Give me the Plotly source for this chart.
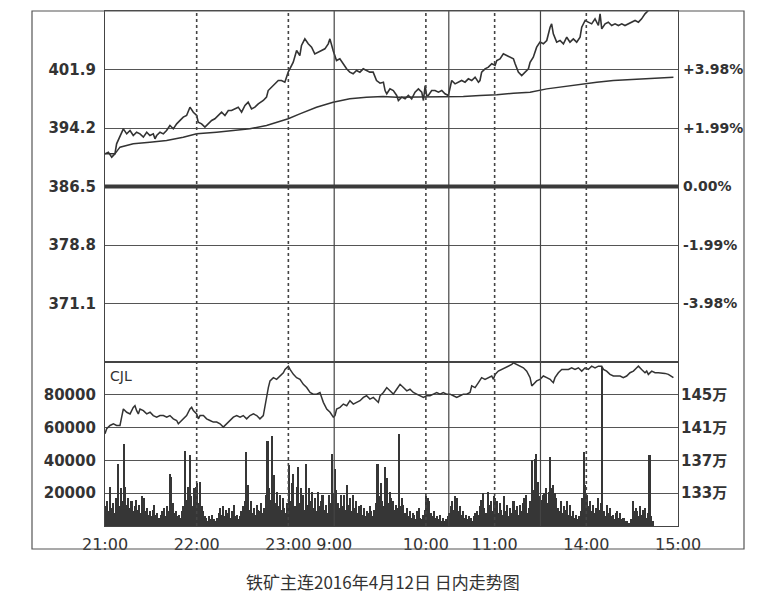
import plotly.graph_objects as go

W, H = 766, 596

# ---- time axis (trading minutes counted from 21:00) ----
tick_minutes = [0, 60, 120, 150, 210, 255, 315, 375]
tick_labels = ["21:00", "22:00", "23:00", "9:00", "10:00", "11:00", "14:00", "15:00"]
dotted_minutes = [60, 120, 210, 255, 315]
session_minutes = [150, 225, 285]

# ---- price panel ----
price_ref = 386.5
price_ticks = [371.1, 378.8, 386.5, 394.2, 401.9]

price_t = [0.0, 2.2, 4.4, 6.5, 7.6, 9.8, 12.0, 14.2, 16.4, 18.5, 20.7, 22.9, 25.1, 27.3, 29.4,
           31.6, 32.7, 33.8, 36.0, 38.2, 40.3, 42.5, 44.7, 46.9, 49.1, 51.2, 53.4, 55.6, 57.8,
           60.0, 61.0, 63.2, 65.4, 67.6, 69.8, 71.9, 74.1, 76.3, 78.5, 80.7, 82.8, 85.0, 87.2,
           89.4, 91.6, 93.7, 95.9, 98.1, 100.3, 103.6, 105.7, 106.8, 109.0, 111.2, 113.4, 115.5,
           117.7, 119.9, 122.1, 123.2, 125.4, 127.5, 128.6, 130.8, 133.0, 135.2, 137.3, 139.5,
           141.7, 143.9, 146.1, 147.2, 149.3, 151.5, 153.7, 155.9, 158.1, 160.2, 162.4, 164.6,
           166.8, 169.0, 171.1, 173.3, 175.5, 177.7, 180.0, 182.2, 183.3, 184.4, 186.5, 188.7,
           190.9, 192.0, 194.2, 196.4, 198.5, 200.7, 202.9, 205.1, 207.3, 208.4, 209.5, 210.5,
           211.6, 213.8, 216.0, 218.2, 220.4, 222.5, 224.7, 226.9, 229.1, 231.3, 233.4, 235.6,
           237.8, 240.0, 242.2, 244.4, 245.4, 246.5, 248.7, 250.9, 253.1, 255.3, 256.4, 258.5,
           260.7, 262.9, 265.1, 267.3, 268.4, 270.5, 272.7, 274.9, 277.1, 278.2, 280.3, 282.5,
           284.7, 286.9, 289.1, 291.3, 292.3, 293.4, 295.6, 297.8, 300.0, 302.2, 304.3, 306.5,
           308.7, 310.9, 312.0, 314.2, 316.3, 318.5, 320.7, 322.9, 324.0, 325.1, 327.3, 329.4,
           331.6, 333.8, 336.0, 338.2, 340.3, 342.5, 344.7, 346.9, 349.1, 351.2, 353.4, 355.6,
           358.0, 362.0, 366.0, 370.0]
price = [390.80, 391.02, 390.36, 390.80, 392.12, 393.00, 394.09, 393.43, 393.87, 393.21, 393.65,
         393.43, 393.00, 393.65, 393.21, 393.43, 392.77, 393.21, 393.65, 393.43, 393.87, 394.53,
         394.09, 394.75, 395.19, 395.63, 395.85, 396.94, 396.28, 395.85, 394.97, 394.75, 394.31,
         394.75, 395.19, 395.41, 395.85, 396.28, 395.85, 396.50, 396.50, 396.72, 396.94, 396.28,
         397.16, 397.60, 396.72, 396.94, 397.38, 397.82, 398.26, 399.13, 399.57, 400.01, 400.45,
         400.45, 400.23, 401.55, 402.43, 402.87, 404.40, 403.74, 405.06, 405.93, 405.28, 404.84,
         403.96, 404.18, 404.40, 404.62, 405.28, 405.93, 404.40, 403.08, 403.30, 402.64, 401.99,
         401.55, 401.33, 401.77, 401.55, 401.99, 401.77, 401.55, 401.55, 400.45, 400.10, 400.23,
         399.13, 398.70, 399.35, 399.13, 398.48, 397.82, 398.26, 398.04, 398.48, 398.04, 398.92,
         399.35, 398.92, 397.82, 399.79, 398.48, 398.48, 399.13, 399.13, 398.92, 399.13, 398.70,
         398.48, 400.45, 400.01, 400.23, 400.45, 400.23, 400.67, 400.45, 400.89, 400.23, 400.45,
         401.55, 401.99, 402.21, 402.65, 402.43, 403.08, 403.30, 403.96, 403.74, 403.52, 403.30,
         402.65, 401.55, 401.11, 401.55, 401.99, 402.86, 403.52, 404.84, 405.50, 405.28, 405.72,
         407.47, 407.91, 406.59, 405.50, 405.72, 405.28, 406.15, 405.50, 405.93, 405.50, 406.15,
         407.47, 408.35, 408.13, 407.91, 408.57, 407.69, 409.23, 407.25, 407.91, 408.13, 407.69,
         407.91, 407.69, 407.91, 407.69, 407.91, 408.13, 408.35, 408.13, 408.57, 409.23, 409.66,
         410.30, 410.90, 411.30, 411.60]

avg_t = [0.0, 6.5, 9.8, 18.5, 29.4, 40.3, 51.2, 60.0, 73.0, 83.9, 94.8, 105.7, 112.3, 119.9,
         127.5, 138.4, 149.3, 160.2, 171.1, 182.0, 190.9, 201.8, 212.7, 223.6, 234.5, 245.4,
         256.4, 267.3, 278.2, 289.1, 300.0, 310.9, 321.8, 332.7, 343.6, 354.5, 365.4, 372.0]
avg_price = [390.80, 390.80, 391.68, 392.12, 392.33, 392.55, 392.99, 393.43, 393.65, 393.87,
             394.09, 394.53, 394.97, 395.41, 396.06, 396.94, 397.60, 398.04, 398.26, 398.35,
             398.26, 398.26, 398.26, 398.35, 398.35, 398.48, 398.57, 398.78, 398.92, 399.35,
             399.66, 399.92, 400.23, 400.45, 400.58, 400.76, 400.89, 400.89]

# ---- volume / open interest panel ----
vol_ticks = [20000, 40000, 60000, 80000]
oi_ticks = [133, 137, 141, 145]

volume = [
    12000, 15000, 9000, 24000, 11000, 14000, 8000, 17000, 38000, 12000,
    23000, 15000, 50000, 24000, 13000, 17000, 11000, 15000, 9000, 12000,
    16000, 10000, 13000, 8000, 18000, 17000, 9000, 11000, 7000, 9000,
    6000, 10000, 13000, 7000, 8000, 5000, 7000, 9000, 11000, 6000,
    12000, 9000, 32000, 30000, 14000, 8000, 9000, 6000, 7000, 5000,
    9000, 12000, 46000, 16000, 24000, 43000, 18000, 12000, 23000, 24000,
    26000, 14000, 27000, 12000, 9000, 6000, 5000, 3000, 6000, 4000,
    7000, 4000, 3000, 5000, 8000, 11000, 7000, 12000, 6000, 10000,
    8000, 11000, 5000, 9000, 13000, 6000, 7000, 4000, 6000, 9000,
    12000, 15000, 45000, 25000, 10000, 15000, 8000, 11000, 7000, 13000,
    10000, 9000, 14000, 8000, 11000, 19000, 52000, 23000, 16000, 55000,
    31000, 14000, 21000, 12000, 19000, 10000, 17000, 11000, 8000, 14000,
    37000, 15000, 26000, 32000, 12000, 24000, 36000, 14000, 23000, 19000,
    10000, 38000, 13000, 23000, 15000, 21000, 11000, 17000, 9000, 21000,
    12000, 15000, 19000, 10000, 13000, 8000, 19000, 14000, 44000, 20000,
    35000, 22000, 14000, 11000, 19000, 12000, 19000, 10000, 25000, 13000,
    17000, 9000, 19000, 11000, 15000, 8000, 12000, 13000, 7000, 11000,
    6000, 9000, 8000, 12000, 9000, 6000, 10000, 14000, 38000, 18000,
    26000, 15000, 12000, 36000, 29000, 14000, 21000, 17000, 15000, 10000,
    13000, 11000, 56000, 12000, 17000, 13000, 8000, 11000, 6000, 9000,
    5000, 8000, 7000, 4000, 9000, 11000, 5000, 4000, 7000, 10000,
    18000, 17000, 15000, 8000, 6000, 9000, 5000, 6000, 4000, 7000,
    3000, 5000, 3000, 4000, 6000, 8000, 12000, 15000, 10000, 18000,
    17000, 9000, 12000, 7000, 9000, 5000, 7000, 4000, 6000, 5000,
    3000, 6000, 8000, 9000, 7000, 12000, 16000, 20000, 11000, 8000,
    21000, 13000, 15000, 9000, 18000, 17000, 15000, 8000, 14000, 10000,
    7000, 18000, 9000, 13000, 6000, 11000, 8000, 15000, 10000, 12000,
    7000, 13000, 9000, 14000, 17000, 19000, 8000, 11000, 15000, 40000,
    22000, 41000, 44000, 27000, 18000, 16000, 19000, 20000, 23000, 14000,
    21000, 42000, 23000, 25000, 20000, 17000, 11000, 9000, 15000, 8000,
    12000, 10000, 15000, 7000, 13000, 6000, 9000, 5000, 7000, 4000,
    6000, 9000, 17000, 45000, 25000, 19000, 12000, 15000, 9000, 13000,
    8000, 11000, 17000, 10000, 14000, 97000, 9000, 6000, 13000, 8000,
    11000, 6000, 7000, 4000, 8000, 9000, 5000, 8000, 4000, 5000,
    3000, 3000, 2000, 2000, 4000, 15000, 9000, 11000, 9000, 6000,
    12000, 7000, 10000, 11000, 5000, 8000, 43000, 6000, 3000,
]
volume_minute = [m + 0.5 for m in range(len(volume))]

oi_t = [0.0, 1.1, 3.3, 5.5, 7.6, 9.8, 10.9, 12.0, 14.2, 16.4, 18.5, 19.6, 20.7, 21.8, 22.9,
        25.1, 27.3, 29.5, 31.6, 33.8, 36.0, 38.2, 40.4, 42.5, 44.7, 46.9, 48.0, 49.1, 51.3,
        53.4, 55.6, 56.7, 57.8, 60.0, 61.1, 62.2, 64.4, 66.5, 68.7, 70.9, 73.1, 75.3, 77.4,
        79.6, 81.8, 84.0, 86.2, 88.4, 90.5, 92.7, 94.9, 97.1, 99.3, 101.4, 103.6, 104.7,
        105.8, 106.9, 108.0, 110.2, 112.3, 114.5, 116.7, 117.8, 118.9, 120.0, 121.1, 123.3,
        125.4, 127.6, 129.8, 132.0, 134.2, 136.3, 138.5, 140.7, 141.8, 142.9, 145.1, 147.3,
        149.4, 150.5, 151.6, 153.8, 156.0, 158.2, 160.3, 162.5, 164.7, 166.9, 169.1, 171.2,
        173.4, 175.6, 177.8, 178.9, 180.0, 182.2, 184.4, 186.5, 188.7, 190.9, 193.1, 195.3,
        197.5, 199.6, 201.8, 204.0, 206.2, 208.4, 210.5, 212.7, 214.9, 217.1, 219.3, 221.4,
        223.6, 225.8, 228.0, 230.2, 232.4, 234.5, 236.7, 238.9, 240.0, 242.2, 244.4, 246.5,
        248.7, 250.9, 253.1, 254.2, 255.3, 257.4, 259.6, 261.8, 264.0, 266.2, 267.3, 269.4,
        271.6, 273.8, 276.0, 278.2, 279.3, 280.3, 282.5, 284.7, 286.9, 289.1, 291.3, 292.3,
        293.4, 294.5, 296.7, 298.9, 301.1, 303.3, 305.4, 307.6, 309.8, 312.0, 314.2, 316.3,
        318.5, 320.7, 322.9, 325.1, 326.2, 328.3, 330.5, 332.7, 334.9, 337.1, 339.2, 341.4,
        343.6, 345.8, 348.0, 349.1, 351.2, 353.4, 354.5, 355.6, 357.8, 360.0, 362.2, 364.3,
        366.5, 368.7, 370.9, 372.0]
oi_wan = [140.26, 140.86, 141.26, 141.46, 141.26, 141.26, 142.27, 143.27, 142.87, 142.67, 143.47,
          143.67, 143.07, 142.67, 143.27, 143.07, 142.67, 142.87, 142.47, 142.27, 142.47, 142.47,
          142.27, 142.47, 142.07, 141.87, 141.46, 141.67, 142.07, 142.47, 143.27, 143.47, 143.07,
          142.67, 142.07, 142.47, 142.47, 142.07, 141.87, 141.67, 141.67, 141.46, 141.06, 141.46,
          141.87, 142.27, 142.47, 142.27, 142.47, 142.07, 142.47, 142.67, 142.47, 142.07, 142.47,
          143.67, 145.08, 145.88, 146.69, 147.09, 146.89, 147.29, 147.69, 148.09, 148.29, 148.49,
          148.09, 147.49, 147.09, 146.89, 146.28, 145.88, 145.28, 145.08, 145.08, 145.28, 144.68,
          144.08, 143.27, 142.87, 142.27, 142.47, 143.27, 143.47, 143.87, 143.67, 144.28, 143.87,
          144.08, 144.28, 144.68, 144.88, 144.48, 144.68, 144.28, 144.08, 144.88, 145.28, 145.88,
          145.48, 145.08, 145.68, 146.28, 145.88, 145.48, 145.68, 145.28, 145.08, 144.88, 144.68,
          144.88, 144.88, 145.08, 145.28, 145.08, 145.28, 145.08, 145.08, 144.88, 144.68, 144.88,
          145.08, 145.08, 145.28, 146.08, 145.88, 146.49, 147.09, 146.89, 147.09, 147.29, 146.89,
          147.49, 147.89, 148.09, 148.29, 148.49, 148.70, 148.90, 148.70, 148.49, 148.29, 147.89,
          147.09, 146.08, 146.28, 146.69, 146.89, 147.29, 147.09, 146.89, 146.69, 146.49, 147.09,
          147.69, 148.09, 148.09, 148.09, 148.29, 148.09, 148.29, 147.89, 148.29, 148.09, 148.49,
          148.29, 148.49, 148.49, 148.09, 147.89, 147.49, 147.29, 147.29, 147.29, 147.09, 147.29,
          147.69, 147.89, 148.29, 148.49, 148.09, 147.69, 147.89, 147.49, 147.89, 147.69, 147.69,
          147.69, 147.61, 147.49, 147.29, 147.09]


def pct_label(v):
    p = (v - price_ref) / price_ref * 100
    if abs(p) < 0.005:
        return "0.00%"
    return f"{p:+.2f}%"


INK = "#333333"
GRID = "#555555"

# pixel layout -> paper fractions
def px(xp):
    return xp / W

def py(yp):
    return 1 - yp / H

x_dom = [px(105), px(678)]
up_dom = [py(362), py(11)]
lo_dom = [py(526), py(362)]

fig = go.Figure()

fig.add_trace(go.Bar(x=volume_minute, y=volume, xaxis="x2", yaxis="y3",
                     marker=dict(color="#363636", line=dict(width=0))))
fig.add_trace(go.Scatter(x=oi_t, y=oi_wan, xaxis="x2", yaxis="y4", mode="lines",
                         line=dict(color=INK, width=1.5)))
fig.add_trace(go.Scatter(x=avg_t, y=avg_price, xaxis="x", yaxis="y", mode="lines",
                         line=dict(color=INK, width=1.5)))
# price line on the right (percent) axis, which shares the same price range
fig.add_trace(go.Scatter(x=price_t, y=price, xaxis="x", yaxis="y2", mode="lines",
                         line=dict(color=INK, width=1.6)))

bold = dict(family="DejaVu Sans", size=15, color=INK, weight="bold")
price_range = [363.4, 409.6]

fig.update_layout(
    width=W, height=H,
    margin=dict(l=0, r=0, t=0, b=0, autoexpand=False),
    paper_bgcolor="white", plot_bgcolor="white",
    showlegend=False, bargap=0,
    xaxis=dict(domain=x_dom, range=[0, 375], anchor="y", showticklabels=False, ticks="",
               showgrid=False, zeroline=False, showline=True, mirror=True,
               linecolor="#444", linewidth=1.2, automargin=False),
    xaxis2=dict(domain=x_dom, range=[0, 375], anchor="y3", tickvals=tick_minutes,
                ticktext=tick_labels, ticks="", showgrid=False, zeroline=False,
                showline=True, mirror=True, linecolor="#444", linewidth=1.2,
                tickfont=dict(family="DejaVu Sans", size=16, color=INK),
                ticklabelstandoff=4, automargin=False),
    yaxis=dict(domain=up_dom, range=price_range, anchor="x",
               tickvals=price_ticks, ticktext=[f"{v:.1f}" for v in price_ticks],
               ticks="", showgrid=True, gridcolor=GRID, gridwidth=1, zeroline=False,
               showline=True, mirror=True, linecolor="#444", linewidth=1.2,
               tickfont=bold, ticklabelstandoff=5, automargin=False),
    yaxis2=dict(overlaying="y", side="right", anchor="x", range=price_range,
                tickvals=price_ticks, ticktext=[pct_label(v) for v in price_ticks],
                ticks="", showgrid=False, zeroline=False, showline=False,
                tickfont=dict(family="DejaVu Sans", size=14, color=INK, weight="bold"),
                ticklabelstandoff=4, automargin=False),
    yaxis3=dict(domain=lo_dom, range=[0, 100000], anchor="x2",
                tickvals=vol_ticks, ticktext=[str(v) for v in vol_ticks],
                ticks="", showgrid=True, gridcolor=GRID, gridwidth=1, zeroline=False,
                showline=True, mirror=True, linecolor="#444", linewidth=1.2,
                tickfont=bold, ticklabelstandoff=5, automargin=False),
    yaxis4=dict(overlaying="y3", side="right", anchor="x2", range=[129, 149],
                tickvals=oi_ticks, ticktext=[f"{v}万" for v in oi_ticks],
                ticks="", showgrid=False, zeroline=False, showline=False,
                tickfont=dict(family="DejaVu Sans, Noto Sans CJK SC", size=15, color=INK,
                              weight="bold"),
                ticklabelstandoff=2, automargin=False),
)

shapes = []
for m in dotted_minutes:
    shapes.append(dict(type="line", xref="x", yref="paper", x0=m, x1=m,
                       y0=lo_dom[0], y1=up_dom[1],
                       line=dict(color="#444", width=1.6, dash="dot")))
for m in session_minutes:
    shapes.append(dict(type="line", xref="x", yref="paper", x0=m, x1=m,
                       y0=lo_dom[0], y1=up_dom[1],
                       line=dict(color="#444", width=1.2)))
shapes.append(dict(type="line", xref="x", yref="y", x0=0, x1=375,
                   y0=price_ref, y1=price_ref, line=dict(color="#3a3a3a", width=4)))
shapes.append(dict(type="rect", xref="paper", yref="paper",
                   x0=px(32), x1=px(744), y0=py(549), y1=py(11),
                   line=dict(color="#555", width=1.2)))
fig.update_layout(shapes=shapes)

fig.add_annotation(x=px(108), y=py(376), xref="paper", yref="paper", text="CJL",
                   showarrow=False, xanchor="left", yanchor="middle",
                   font=dict(family="DejaVu Sans", size=14, color=INK))
fig.add_annotation(x=0.5, y=py(581), xref="paper", yref="paper",
                   text="铁矿主连2016年4月12日 日内走势图", showarrow=False,
                   xanchor="center", yanchor="middle",
                   font=dict(family="Noto Sans CJK SC", size=17, color=INK))

fig.write_html("out.html", config={"displayModeBar": False},
               post_script="document.body.style.margin='0';document.body.style.padding='0';")
